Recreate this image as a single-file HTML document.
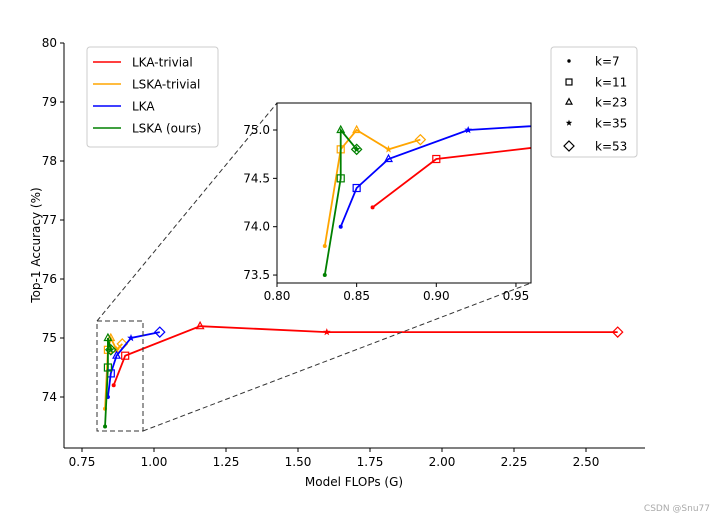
<!DOCTYPE html>
<html><head><meta charset="utf-8"><style>
body{margin:0;background:#fff;}
svg{display:block;font-family:"DejaVu Sans","Liberation Sans",sans-serif;}
</style></head><body>
<svg id="chart" width="720" height="517"></svg>
<script>
const seriesNames=["LKA-trivial","LSKA-trivial","LKA","LSKA (ours)"];
const seriesColors=["#ff0000","#ffa500","#0000ff","#008000"];
const kernelLabels=["k=7","k=11","k=23","k=35","k=53"];
const flopsLKAtrivial=[0.86,0.90,1.16,1.60,2.61];
const accLKAtrivial=[74.2,74.7,75.2,75.1,75.1];
const flopsLSKAtrivial=[0.83,0.84,0.85,0.87,0.89];
const accLSKAtrivial=[73.8,74.8,75.0,74.8,74.9];
const flopsLKA=[0.84,0.85,0.87,0.92,1.02];
const accLKA=[74.0,74.4,74.7,75.0,75.1];
const flopsLSKA=[0.83,0.84,0.84,0.85,0.85];
const accLSKA=[73.5,74.5,75.0,74.8,74.8];
const xTicks=[0.75,1.00,1.25,1.50,1.75,2.00,2.25,2.50];
const yTicks=[74,75,76,77,78,79,80];
const inXTicks=[0.80,0.85,0.90,0.95];
const inYTicks=[73.5,74.0,74.5,75.0];

const S=document.getElementById('chart');const NS="http://www.w3.org/2000/svg";
function el(t,a,p){const e=document.createElementNS(NS,t);for(const k in a)e.setAttribute(k,a[k]);(p||S).appendChild(e);return e;}
const X=v=>82+(v-0.75)*288, Y=v=>397-(v-74)*59;
const IX=v=>277+(v-0.80)*1593, IY=v=>130-(v-75)*96.7;
const series=[[flopsLKAtrivial,accLKAtrivial],[flopsLSKAtrivial,accLSKAtrivial],[flopsLKA,accLKA],[flopsLSKA,accLSKA]];

function marker(g,k,x,y,c,s){
  let e;
  if(k==0)e=el('circle',{cx:x,cy:y,r:2*s,fill:c},g);
  else if(k==1)e=el('rect',{x:x-3.5*s,y:y-3.5*s,width:7*s,height:7*s,fill:'none',stroke:c,'stroke-width':1.2},g);
  else if(k==2)e=el('polygon',{points:`${x},${y-4*s} ${x-3.5*s},${y+2.5*s} ${x+3.5*s},${y+2.5*s}`,fill:'none',stroke:c,'stroke-width':1.2},g);
  else if(k==3){let p=[];for(let i=0;i<10;i++){const r=i%2?1.7*s:4*s,a=-Math.PI/2+i*Math.PI/5;p.push((x+r*Math.cos(a)).toFixed(1)+','+(y+r*Math.sin(a)).toFixed(1));}e=el('polygon',{points:p.join(' '),fill:c},g);}
  else e=el('polygon',{points:`${x},${y-5*s} ${x+5*s},${y} ${x},${y+5*s} ${x-5*s},${y}`,fill:'none',stroke:c,'stroke-width':1.2},g);
  
  
}
function drawSeries(fx,fy,clipId){
  series.forEach((s,i)=>{
    const g=el('g',clipId?{'clip-path':'url(#'+clipId+')'}:{});
    
    
    el('polyline',{points:s[0].map((v,j)=>fx(v)+','+fy(s[1][j])).join(' '),fill:'none',stroke:seriesColors[i],'stroke-width':1.8},g);
    s[0].forEach((v,j)=>marker(g,j,fx(v),fy(s[1][j]),seriesColors[i],1));
  });
}
el('line',{x1:64,y1:43,x2:64,y2:448,stroke:'#000','stroke-width':1});
el('line',{x1:64,y1:448,x2:645,y2:448,stroke:'#000','stroke-width':1});
xTicks.forEach(v=>{el('line',{x1:X(v),y1:448,x2:X(v),y2:452,stroke:'#000'});const t=el('text',{x:X(v),y:466,'font-size':12,'text-anchor':'middle'});t.textContent=v.toFixed(2);});
yTicks.forEach(v=>{el('line',{x1:60,y1:Y(v),x2:64,y2:Y(v),stroke:'#000'});const t=el('text',{x:57,y:Y(v)+4,'font-size':12,'text-anchor':'end'});t.textContent=v;});
let t=el('text',{x:354,y:486,'font-size':12,'text-anchor':'middle',});t.textContent='Model FLOPs (G)';
t=el('text',{x:0,y:0,'font-size':12,'text-anchor':'middle',transform:'translate(40,245) rotate(-90)',});t.textContent='Top-1 Accuracy (%)';
drawSeries(X,Y,null);
el('rect',{x:97,y:321,width:46,height:110,fill:'none',stroke:'#333','stroke-dasharray':'5,3',});
el('line',{x1:97,y1:321,x2:277,y2:103,stroke:'#333','stroke-dasharray':'5,3'});
el('line',{x1:143,y1:431,x2:531,y2:283,stroke:'#333','stroke-dasharray':'5,3'});
const defs=el('defs',{});const cp=el('clipPath',{id:'inclip'},defs);el('rect',{x:277,y:103,width:254,height:180},cp);
el('rect',{x:277,y:103,width:254,height:180,fill:'#fff',});
drawSeries(IX,IY,'inclip');
el('rect',{x:277,y:103,width:254,height:180,fill:'none',stroke:'#000'});
inXTicks.forEach(v=>{el('line',{x1:IX(v),y1:283,x2:IX(v),y2:287,stroke:'#000'});const t=el('text',{x:IX(v),y:300,'font-size':12,'text-anchor':'middle'});t.textContent=v.toFixed(2);});
inYTicks.forEach(v=>{el('line',{x1:273,y1:IY(v),x2:277,y2:IY(v),stroke:'#000'});const t=el('text',{x:270,y:IY(v)+4,'font-size':12,'text-anchor':'end'});t.textContent=v.toFixed(1);});
const L1=el('g',{});
el('rect',{x:87,y:47,width:131,height:100,rx:3,fill:'#fff',stroke:'#ccc'},L1);
seriesNames.forEach((n,i)=>{const y=62+i*22;el('line',{x1:93,y1:y,x2:121,y2:y,stroke:seriesColors[i],'stroke-width':1.5},L1);const t=el('text',{x:132,y:y+4.5,'font-size':12},L1);t.textContent=n;});
const L2=el('g',{});
el('rect',{x:551,y:47,width:86,height:110,rx:3,fill:'#fff',stroke:'#ccc'},L2);
const ly=[61,82,102,123,146];
kernelLabels.forEach((n,i)=>{marker(L2,i,569,ly[i],'#000',i==4?1:0.85);const t=el('text',{x:595,y:ly[i]+4.5,'font-size':12},L2);t.textContent=n;});
t=el('text',{x:710,y:511,'font-size':9,fill:'#aaa','text-anchor':'end',});t.textContent='CSDN @Snu77';
</script>
</body></html>
